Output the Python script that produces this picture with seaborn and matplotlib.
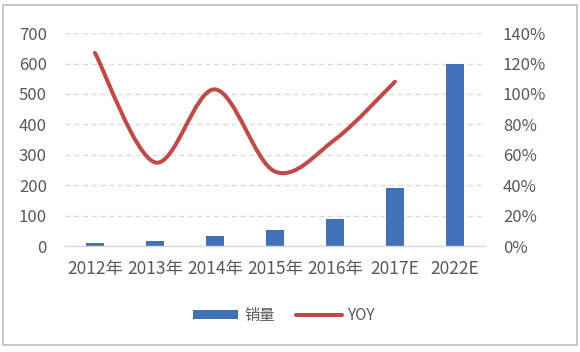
import matplotlib
matplotlib.use("Agg")
import matplotlib.pyplot as plt
import seaborn as sns
import pandas as pd
import numpy as np
from matplotlib.path import Path
from matplotlib.patches import PathPatch, Patch, Rectangle
from matplotlib.lines import Line2D
from matplotlib.ticker import FuncFormatter

categories = ["2012年", "2013年", "2014年", "2015年", "2016年", "2017E", "2022E"]
sales = [11, 17, 34, 53, 90, 190, 600]
yoy_categories = ["2012年", "2013年", "2014年", "2015年", "2016年", "2017E"]
yoy = [1.27, 0.55, 1.03, 0.49, 0.70, 1.08]

sns.set_theme(style="white")
plt.rcParams['font.family'] = ['Noto Sans CJK SC', 'DejaVu Sans']

BLUE = "#4171B7"
RED = "#BE4B48"
GRAY = "#595959"

fig = plt.figure(figsize=(5.8, 3.52), dpi=100)
ax = fig.add_axes([0.112, 0.301, 0.724, 0.605])

df = pd.DataFrame({"cat": categories, "sales": sales})
sns.barplot(data=df, x="cat", y="sales", color=BLUE, width=0.31, ax=ax,
            saturation=1, edgecolor="none")
ax.set_ylim(0, 700)
ax.set_xlim(-0.5, len(categories) - 0.5)
ax.set_yticks(range(0, 701, 100))
ax.set_xlabel("")
ax.set_ylabel("")
for s in ["top", "right", "left"]:
    ax.spines[s].set_visible(False)
ax.spines["bottom"].set_color("#D9D9D9")
ax.spines["bottom"].set_linewidth(1.0)
ax.yaxis.grid(True, linestyle=(0, (4, 3)), color="#D9D9D9", linewidth=0.9)
ax.set_axisbelow(True)
ax.tick_params(axis="y", length=0, labelsize=12, labelcolor=GRAY, pad=13)
ax.tick_params(axis="x", length=0, labelsize=12.5, labelcolor=GRAY, pad=10)

ax2 = ax.twinx()
ax2.set_ylim(0, 1.4)
ax2.set_yticks(np.arange(0, 1.41, 0.2))
ax2.yaxis.set_major_formatter(FuncFormatter(lambda v, p: f"{v*100:.0f}%"))
for s in ["top", "right", "left", "bottom"]:
    ax2.spines[s].set_visible(False)
ax2.tick_params(axis="y", length=0, labelsize=12, labelcolor=GRAY, pad=13)
ax2.grid(False)

# smoothed line (Excel-style Catmull-Rom bezier) through data points
xs = np.arange(len(yoy), dtype=float)
ys = np.array(yoy, dtype=float)
pts = np.column_stack([xs, ys])
verts = [tuple(pts[0])]
codes = [Path.MOVETO]
n = len(pts)
for i in range(n - 1):
    p0 = pts[i - 1] if i > 0 else pts[i]
    p1 = pts[i]
    p2 = pts[i + 1]
    p3 = pts[i + 2] if i + 2 < n else pts[i + 1]
    c1 = p1 + (p2 - p0) / 6.0
    c2 = p2 - (p3 - p1) / 6.0
    verts += [tuple(c1), tuple(c2), tuple(p2)]
    codes += [Path.CURVE4] * 3
path = Path(verts, codes)
ax2.add_patch(PathPatch(path, facecolor="none", edgecolor=RED, linewidth=2.9,
                        capstyle="round", transform=ax2.transData))

handles = [Patch(facecolor=BLUE, edgecolor="none", label="销量"),
           Line2D([0], [0], color=RED, linewidth=2.9, label="YOY")]
fig.legend(handles=handles, loc="center", bbox_to_anchor=(0.49, 0.105), ncol=2,
           frameon=False, fontsize=11, handlelength=3.0, handleheight=0.55,
           columnspacing=1.4, handletextpad=0.4, labelcolor=GRAY)

fig.patches.append(Rectangle((0.006, 0.02), 0.988, 0.965, transform=fig.transFigure,
                             fill=False, edgecolor="#BFBFBF", linewidth=1.2))

fig.savefig("out.png", dpi=100)
